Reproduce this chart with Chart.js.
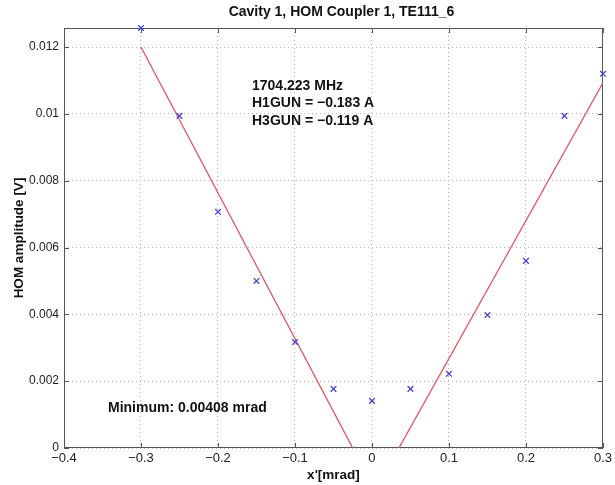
<!DOCTYPE html>
<html>
<head>
<meta charset="utf-8">
<script src="https://cdn.jsdelivr.net/npm/chart.js@4/dist/chart.umd.min.js"></script>
<style>
  html, body { margin: 0; padding: 0; background: #fff; }
  #wrap { width: 615px; height: 485px; }
</style>
</head>
<body>
<div id="wrap"><canvas id="hom"></canvas></div>
<script>
'use strict'

// measured points (x' in mrad, amplitude in V)
const offsetX = [-0.3, -0.25, -0.2, -0.15, -0.1, -0.05, 0, 0.05, 0.1, 0.15, 0.2, 0.25, 0.3]
const amplitude = [0.01257, 0.00994, 0.00707, 0.0050, 0.00317, 0.00177, 0.00141, 0.00177, 0.00222, 0.00398, 0.0056, 0.00994, 0.0112]

// fitted lines on both sides of the minimum
const leftFitX = [-0.3, -0.025]
const leftFitY = [0.0120, 0]
const rightFitX = [0.035, 0.3]
const rightFitY = [0, 0.01093]

const xTicks = [-0.4, -0.3, -0.2, -0.1, 0, 0.1, 0.2, 0.3]
const yTicks = [0, 0.002, 0.004, 0.006, 0.008, 0.01, 0.012]

const titleText = 'Cavity 1, HOM Coupler 1, TE111_6'
const infoLines = ['1704.223 MHz', 'H1GUN = \u22120.183 A', 'H3GUN = \u22120.119 A']
const minimumText = 'Minimum: 0.00408 mrad'

const FONT = 'Liberation Sans, Arial, Helvetica, sans-serif'

function toPoints (xs, ys) {
  return xs.map((x, i) => ({ x: x, y: ys[i] }))
}

function fmt (v) {
  const s = String(Math.round(v * 1e6) / 1e6)
  return s.replace('-', '\u2212')
}

// box, inward ticks and text labels, matlab style
const decorations = {
  id: 'decorations',
  beforeDatasetsDraw (chart) {
    const { ctx, chartArea: a, scales } = chart
    ctx.save()
    ctx.strokeStyle = '#555'
    ctx.lineWidth = 1
    ctx.setLineDash([])
    ctx.strokeRect(a.left + 0.5, a.top + 0.5, a.right - a.left - 1, a.bottom - a.top - 1)
    ctx.beginPath()
    xTicks.forEach(v => {
      const px = Math.round(scales.x.getPixelForValue(v)) + 0.5
      ctx.moveTo(px, a.bottom); ctx.lineTo(px, a.bottom - 5)
      ctx.moveTo(px, a.top); ctx.lineTo(px, a.top + 5)
    })
    yTicks.forEach(v => {
      const py = Math.round(scales.y.getPixelForValue(v)) + 0.5
      ctx.moveTo(a.left, py); ctx.lineTo(a.left + 5, py)
      ctx.moveTo(a.right, py); ctx.lineTo(a.right - 5, py)
    })
    ctx.stroke()
    ctx.restore()
  },
  afterDraw (chart) {
    const { ctx, chartArea: a } = chart
    ctx.save()
    ctx.fillStyle = '#111'
    ctx.font = 'bold 14px ' + FONT
    ctx.textAlign = 'center'
    ctx.textBaseline = 'middle'
    ctx.fillText(titleText, (a.left + a.right) / 2 + 8, 12)

    ctx.textAlign = 'left'
    infoLines.forEach((t, i) => ctx.fillText(t, 252, 86 + i * 17.5))
    ctx.fillText(minimumText, 108, 408)
    ctx.restore()
  }
}

new Chart(document.getElementById('hom'), {
  type: 'scatter',
  data: {
    datasets: [
      {
        label: 'measured',
        data: toPoints(offsetX, amplitude),
        pointStyle: 'crossRot',
        pointRadius: 4,
        pointBorderWidth: 1.3,
        borderColor: '#4444d4',
        backgroundColor: '#4444d4',
        showLine: false,
        clip: false
      },
      {
        label: 'fit left',
        data: toPoints(leftFitX, leftFitY),
        showLine: true,
        pointRadius: 0,
        borderColor: '#e0565e',
        borderWidth: 1.3
      },
      {
        label: 'fit right',
        data: toPoints(rightFitX, rightFitY),
        showLine: true,
        pointRadius: 0,
        borderColor: '#e0565e',
        borderWidth: 1.3
      }
    ]
  },
  options: {
    responsive: true,
    maintainAspectRatio: false,
    animation: false,
    layout: { padding: { left: 0, right: 11, top: 28, bottom: 0 } },
    plugins: {
      legend: { display: false },
      tooltip: { enabled: false },
      title: { display: false }
    },
    scales: {
      x: {
        type: 'linear',
        min: -0.4,
        max: 0.3,
        afterFit (scale) { scale.height = 37 },
        afterBuildTicks (scale) { scale.ticks = xTicks.map(v => ({ value: v })) },
        ticks: {
          callback: v => fmt(v),
          color: '#222',
          padding: 3,
          maxRotation: 0,
          font: { family: FONT, size: 13 }
        },
        grid: { color: '#b8b8b8', lineWidth: 1, drawTicks: false },
        border: { display: false, dash: [1, 3] },
        title: {
          display: true,
          text: 'x\'[mrad]',
          color: '#111',
          padding: { top: 0, bottom: 1.8 },
          font: { family: FONT, size: 13.5, weight: 'bold' }
        }
      },
      y: {
        type: 'linear',
        min: 0,
        max: 0.01257,
        afterFit (scale) { scale.width = 64 },
        afterBuildTicks (scale) { scale.ticks = yTicks.map(v => ({ value: v })) },
        ticks: {
          callback: v => fmt(v),
          color: '#222',
          padding: 5,
          font: { family: FONT, size: 12 }
        },
        grid: { color: '#b8b8b8', lineWidth: 1, drawTicks: false },
        border: { display: false, dash: [1, 3] },
        title: {
          display: true,
          text: 'HOM amplitude [V]',
          color: '#111',
          padding: { top: 11, bottom: 0 },
          font: { family: FONT, size: 13.5, weight: 'bold' }
        }
      }
    }
  },
  plugins: [decorations]
})
</script>
</body>
</html>
